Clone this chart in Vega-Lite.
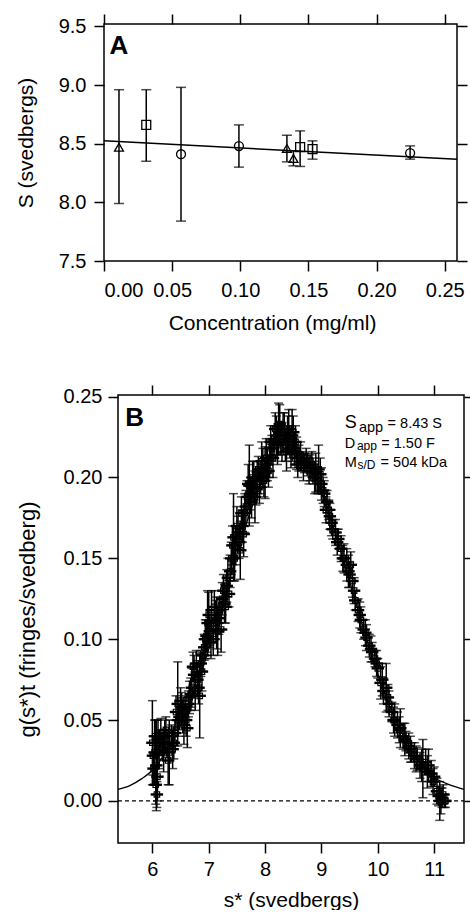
{
  "$schema": "https://vega.github.io/schema/vega-lite/v6.json",
  "background": "white",
  "padding": {"left": 14, "top": 12, "right": 0, "bottom": 0},
  "spacing": 50,
  "config": {
    "font": "Liberation Sans",
    "view": {"stroke": "black", "strokeWidth": 1.5},
    "axis": {
      "domain": false, "grid": false, "tickColor": "black", "tickWidth": 1.5, "tickSize": 10,
      "labelColor": "black", "titleColor": "black", "labelFont": "Liberation Sans", "titleFont": "Liberation Sans",
      "labelFontSize": 20, "titleFontSize": 21, "titleFontWeight": "normal"
    }
  },
  "vconcat": [
    {
      "width": 353,
      "height": 237,
      "data": {"values": [
        {"c": 0.011, "S": 8.47, "lo": 7.99, "hi": 8.96, "sym": "triangle"},
        {"c": 0.031, "S": 8.66, "lo": 8.35, "hi": 8.96, "sym": "square"},
        {"c": 0.0565, "S": 8.41, "lo": 7.84, "hi": 8.98, "sym": "circle"},
        {"c": 0.099, "S": 8.48, "lo": 8.30, "hi": 8.66, "sym": "circle"},
        {"c": 0.1342, "S": 8.46, "lo": 8.345, "hi": 8.572, "sym": "triangle"},
        {"c": 0.139, "S": 8.374, "lo": 8.311, "hi": 8.439, "sym": "triangle"},
        {"c": 0.1439, "S": 8.47, "lo": 8.306, "hi": 8.609, "sym": "square"},
        {"c": 0.153, "S": 8.453, "lo": 8.368, "hi": 8.524, "sym": "square"},
        {"c": 0.2246, "S": 8.42, "lo": 8.368, "hi": 8.481, "sym": "circle"}
      ]},
      "layer": [
        {
          "mark": {"type": "errorbar", "ticks": true, "size": 10, "thickness": 1.5, "color": "black"},
          "encoding": {
            "x": {"field": "c", "type": "quantitative",
                  "scale": {"domain": [0, 0.259], "nice": false, "zero": false},
                  "axis": {"orient": "bottom", "values": [0, 0.05, 0.1, 0.15, 0.2, 0.25], "format": ".2f",
                           "labelPadding": 9, "title": "Concentration (mg/ml)", "titlePadding": 12, "titleX": 168}},
            "y": {"field": "lo", "type": "quantitative",
                  "scale": {"domain": [7.5, 9.52], "nice": false, "zero": false},
                  "axis": {"orient": "left", "values": [7.5, 8, 8.5, 9, 9.5], "format": ".1f",
                           "labelPadding": 8, "title": "S (svedbergs)", "titlePadding": 22}},
            "y2": {"field": "hi"}
          }
        },
        {
          "mark": {"type": "point", "filled": false, "size": 80, "stroke": "black", "strokeWidth": 1.3, "opacity": 1},
          "encoding": {
            "x": {"field": "c", "type": "quantitative",
                  "axis": {"orient": "top", "values": [0, 0.05, 0.1, 0.15, 0.2, 0.25], "labels": false, "title": null}},
            "y": {"field": "S", "type": "quantitative",
                  "axis": {"orient": "right", "values": [7.5, 8, 8.5, 9, 9.5], "labels": false, "title": null}},
            "shape": {"field": "sym", "type": "nominal",
                      "scale": {"domain": ["triangle", "square", "circle"], "range": ["triangle-up", "square", "circle"]},
                      "legend": null}
          }
        },
        {
          "data": {"values": [{"c": 0, "S": 8.524}, {"c": 0.259, "S": 8.367}]},
          "mark": {"type": "line", "color": "black", "strokeWidth": 1.5},
          "encoding": {
            "x": {"field": "c", "type": "quantitative", "axis": null},
            "y": {"field": "S", "type": "quantitative", "axis": null}
          }
        },
        {
          "data": {"values": [{"c": 0.004, "S": 9.262, "t": "A"}]},
          "mark": {"type": "text", "fontSize": 26, "fontWeight": "bold", "align": "left", "baseline": "alphabetic", "color": "black"},
          "encoding": {
            "x": {"field": "c", "type": "quantitative", "axis": null},
            "y": {"field": "S", "type": "quantitative", "axis": null},
            "text": {"field": "t"}
          }
        }
      ],
      "resolve": {"axis": {"x": "independent", "y": "independent"}}
    },
    {
      "width": 360,
      "height": 448,
      "view": {"stroke": null},
      "data": {"values": [
        {"s": 6.00, "g": 0.036, "e": 0.026, "h": 0.11},
        {"s": 6.01, "g": 0.028, "e": 0.012, "h": 0.11},
        {"s": 6.02, "g": 0.020, "e": 0.010, "h": 0.11},
        {"s": 6.04, "g": 0.030, "e": 0.020, "h": 0.11},
        {"s": 6.05, "g": 0.040, "e": 0.010, "h": 0.11},
        {"s": 6.06, "g": 0.010, "e": 0.012, "h": 0.11},
        {"s": 6.07, "g": 0.022, "e": 0.028, "h": 0.11},
        {"s": 6.08, "g": 0.004, "e": 0.008, "h": 0.11},
        {"s": 6.09, "g": 0.015, "e": 0.015, "h": 0.11},
        {"s": 6.10, "g": 0.038, "e": 0.012, "h": 0.11},
        {"s": 6.12, "g": 0.030, "e": 0.010, "h": 0.11},
        {"s": 6.13, "g": 0.036, "e": 0.008, "h": 0.11},
        {"s": 6.15, "g": 0.042, "e": 0.009, "h": 0.11},
        {"s": 6.18, "g": 0.033, "e": 0.008, "h": 0.11},
        {"s": 6.20, "g": 0.030, "e": 0.012, "h": 0.11},
        {"s": 6.22, "g": 0.040, "e": 0.010, "h": 0.11},
        {"s": 6.24, "g": 0.044, "e": 0.008, "h": 0.11},
        {"s": 6.26, "g": 0.035, "e": 0.008, "h": 0.11},
        {"s": 6.28, "g": 0.025, "e": 0.015, "h": 0.11},
        {"s": 6.30, "g": 0.030, "e": 0.020, "h": 0.11},
        {"s": 6.34, "g": 0.040, "e": 0.007, "h": 0.11},
        {"s": 6.36, "g": 0.032, "e": 0.012, "h": 0.11},
        {"s": 6.38, "g": 0.036, "e": 0.010, "h": 0.11},
        {"s": 6.40, "g": 0.042, "e": 0.008, "h": 0.11},
        {"s": 6.42, "g": 0.055, "e": 0.010, "h": 0.11},
        {"s": 6.45, "g": 0.060, "e": 0.026, "h": 0.11},
        {"s": 6.46, "g": 0.050, "e": 0.010, "h": 0.11},
        {"s": 6.48, "g": 0.052, "e": 0.008, "h": 0.11},
        {"s": 6.50, "g": 0.062, "e": 0.008, "h": 0.11},
        {"s": 6.52, "g": 0.058, "e": 0.009, "h": 0.11},
        {"s": 6.54, "g": 0.052, "e": 0.010, "h": 0.11},
        {"s": 6.56, "g": 0.047, "e": 0.012, "h": 0.11},
        {"s": 6.58, "g": 0.056, "e": 0.009, "h": 0.11},
        {"s": 6.60, "g": 0.050, "e": 0.010, "h": 0.11},
        {"s": 6.62, "g": 0.045, "e": 0.012, "h": 0.11},
        {"s": 6.64, "g": 0.060, "e": 0.008, "h": 0.11},
        {"s": 6.66, "g": 0.064, "e": 0.010, "h": 0.11},
        {"s": 6.68, "g": 0.066, "e": 0.010, "h": 0.11},
        {"s": 6.70, "g": 0.070, "e": 0.012, "h": 0.11},
        {"s": 6.72, "g": 0.083, "e": 0.009, "h": 0.11},
        {"s": 6.74, "g": 0.078, "e": 0.012, "h": 0.11},
        {"s": 6.76, "g": 0.068, "e": 0.012, "h": 0.11},
        {"s": 6.78, "g": 0.085, "e": 0.008, "h": 0.11},
        {"s": 6.80, "g": 0.075, "e": 0.010, "h": 0.11},
        {"s": 6.82, "g": 0.070, "e": 0.010, "h": 0.11},
        {"s": 6.84, "g": 0.065, "e": 0.026, "h": 0.11},
        {"s": 6.86, "g": 0.085, "e": 0.008, "h": 0.11},
        {"s": 6.88, "g": 0.080, "e": 0.012, "h": 0.11},
        {"s": 6.90, "g": 0.090, "e": 0.010, "h": 0.11},
        {"s": 6.92, "g": 0.095, "e": 0.008, "h": 0.11},
        {"s": 6.94, "g": 0.100, "e": 0.012, "h": 0.11},
        {"s": 6.96, "g": 0.102, "e": 0.010, "h": 0.11},
        {"s": 6.98, "g": 0.110, "e": 0.020, "h": 0.11},
        {"s": 7.00, "g": 0.115, "e": 0.014, "h": 0.11},
        {"s": 7.02, "g": 0.105, "e": 0.010, "h": 0.11},
        {"s": 7.04, "g": 0.098, "e": 0.010, "h": 0.11},
        {"s": 7.05, "g": 0.118, "e": 0.012, "h": 0.11},
        {"s": 7.08, "g": 0.100, "e": 0.010, "h": 0.11},
        {"s": 7.10, "g": 0.120, "e": 0.010, "h": 0.11},
        {"s": 7.12, "g": 0.112, "e": 0.012, "h": 0.11},
        {"s": 7.14, "g": 0.110, "e": 0.016, "h": 0.11},
        {"s": 7.16, "g": 0.105, "e": 0.015, "h": 0.11},
        {"s": 7.18, "g": 0.113, "e": 0.010, "h": 0.11},
        {"s": 7.20, "g": 0.118, "e": 0.008, "h": 0.11},
        {"s": 7.22, "g": 0.106, "e": 0.014, "h": 0.11},
        {"s": 7.24, "g": 0.125, "e": 0.010, "h": 0.11},
        {"s": 7.26, "g": 0.130, "e": 0.010, "h": 0.11},
        {"s": 7.28, "g": 0.122, "e": 0.012, "h": 0.11},
        {"s": 7.30, "g": 0.120, "e": 0.010, "h": 0.11},
        {"s": 7.32, "g": 0.133, "e": 0.010, "h": 0.11},
        {"s": 7.34, "g": 0.138, "e": 0.012, "h": 0.11},
        {"s": 7.36, "g": 0.128, "e": 0.008, "h": 0.11},
        {"s": 7.38, "g": 0.142, "e": 0.010, "h": 0.11},
        {"s": 7.40, "g": 0.150, "e": 0.010, "h": 0.11},
        {"s": 7.42, "g": 0.158, "e": 0.012, "h": 0.11},
        {"s": 7.44, "g": 0.163, "e": 0.027, "h": 0.11},
        {"s": 7.46, "g": 0.150, "e": 0.014, "h": 0.11},
        {"s": 7.48, "g": 0.158, "e": 0.012, "h": 0.11},
        {"s": 7.50, "g": 0.170, "e": 0.012, "h": 0.11},
        {"s": 7.52, "g": 0.166, "e": 0.010, "h": 0.11},
        {"s": 7.54, "g": 0.160, "e": 0.010, "h": 0.11},
        {"s": 7.56, "g": 0.155, "e": 0.018, "h": 0.11},
        {"s": 7.58, "g": 0.178, "e": 0.010, "h": 0.11},
        {"s": 7.60, "g": 0.170, "e": 0.010, "h": 0.11},
        {"s": 7.62, "g": 0.165, "e": 0.014, "h": 0.11},
        {"s": 7.64, "g": 0.178, "e": 0.012, "h": 0.11},
        {"s": 7.66, "g": 0.182, "e": 0.010, "h": 0.11},
        {"s": 7.68, "g": 0.188, "e": 0.010, "h": 0.11},
        {"s": 7.70, "g": 0.196, "e": 0.012, "h": 0.11},
        {"s": 7.72, "g": 0.195, "e": 0.025, "h": 0.11},
        {"s": 7.74, "g": 0.190, "e": 0.010, "h": 0.11},
        {"s": 7.76, "g": 0.185, "e": 0.010, "h": 0.11},
        {"s": 7.78, "g": 0.200, "e": 0.010, "h": 0.11},
        {"s": 7.80, "g": 0.198, "e": 0.012, "h": 0.11},
        {"s": 7.82, "g": 0.188, "e": 0.016, "h": 0.11},
        {"s": 7.84, "g": 0.193, "e": 0.010, "h": 0.11},
        {"s": 7.86, "g": 0.200, "e": 0.010, "h": 0.11},
        {"s": 7.88, "g": 0.205, "e": 0.008, "h": 0.11},
        {"s": 7.90, "g": 0.194, "e": 0.010, "h": 0.11},
        {"s": 7.92, "g": 0.200, "e": 0.010, "h": 0.11},
        {"s": 7.94, "g": 0.210, "e": 0.012, "h": 0.11},
        {"s": 7.96, "g": 0.206, "e": 0.012, "h": 0.11},
        {"s": 7.98, "g": 0.198, "e": 0.010, "h": 0.11},
        {"s": 8.00, "g": 0.203, "e": 0.016, "h": 0.11},
        {"s": 8.02, "g": 0.212, "e": 0.012, "h": 0.11},
        {"s": 8.04, "g": 0.208, "e": 0.010, "h": 0.11},
        {"s": 8.06, "g": 0.204, "e": 0.010, "h": 0.11},
        {"s": 8.08, "g": 0.212, "e": 0.012, "h": 0.11},
        {"s": 8.10, "g": 0.222, "e": 0.010, "h": 0.11},
        {"s": 8.12, "g": 0.218, "e": 0.008, "h": 0.11},
        {"s": 8.14, "g": 0.212, "e": 0.012, "h": 0.11},
        {"s": 8.16, "g": 0.222, "e": 0.010, "h": 0.11},
        {"s": 8.18, "g": 0.230, "e": 0.010, "h": 0.11},
        {"s": 8.20, "g": 0.226, "e": 0.012, "h": 0.11},
        {"s": 8.22, "g": 0.220, "e": 0.012, "h": 0.11},
        {"s": 8.24, "g": 0.230, "e": 0.016, "h": 0.11},
        {"s": 8.26, "g": 0.233, "e": 0.012, "h": 0.11},
        {"s": 8.28, "g": 0.224, "e": 0.010, "h": 0.11},
        {"s": 8.30, "g": 0.222, "e": 0.012, "h": 0.11},
        {"s": 8.32, "g": 0.228, "e": 0.012, "h": 0.11},
        {"s": 8.34, "g": 0.230, "e": 0.010, "h": 0.11},
        {"s": 8.36, "g": 0.220, "e": 0.010, "h": 0.11},
        {"s": 8.38, "g": 0.216, "e": 0.012, "h": 0.11},
        {"s": 8.40, "g": 0.226, "e": 0.012, "h": 0.11},
        {"s": 8.42, "g": 0.230, "e": 0.012, "h": 0.11},
        {"s": 8.44, "g": 0.222, "e": 0.010, "h": 0.11},
        {"s": 8.46, "g": 0.216, "e": 0.010, "h": 0.11},
        {"s": 8.48, "g": 0.226, "e": 0.016, "h": 0.11},
        {"s": 8.50, "g": 0.228, "e": 0.010, "h": 0.11},
        {"s": 8.52, "g": 0.218, "e": 0.010, "h": 0.11},
        {"s": 8.54, "g": 0.222, "e": 0.010, "h": 0.11},
        {"s": 8.56, "g": 0.215, "e": 0.010, "h": 0.11},
        {"s": 8.58, "g": 0.208, "e": 0.008, "h": 0.11},
        {"s": 8.60, "g": 0.212, "e": 0.008, "h": 0.11},
        {"s": 8.63, "g": 0.214, "e": 0.008, "h": 0.11},
        {"s": 8.65, "g": 0.210, "e": 0.006, "h": 0.11},
        {"s": 8.68, "g": 0.206, "e": 0.008, "h": 0.11},
        {"s": 8.70, "g": 0.209, "e": 0.006, "h": 0.11},
        {"s": 8.73, "g": 0.212, "e": 0.006, "h": 0.11},
        {"s": 8.75, "g": 0.208, "e": 0.007, "h": 0.11},
        {"s": 8.78, "g": 0.204, "e": 0.008, "h": 0.11},
        {"s": 8.80, "g": 0.206, "e": 0.008, "h": 0.11},
        {"s": 8.83, "g": 0.208, "e": 0.008, "h": 0.11},
        {"s": 8.85, "g": 0.204, "e": 0.008, "h": 0.11},
        {"s": 8.88, "g": 0.200, "e": 0.010, "h": 0.11},
        {"s": 8.90, "g": 0.203, "e": 0.012, "h": 0.11},
        {"s": 8.93, "g": 0.198, "e": 0.008, "h": 0.11},
        {"s": 8.95, "g": 0.205, "e": 0.015, "h": 0.11},
        {"s": 8.98, "g": 0.202, "e": 0.010, "h": 0.11},
        {"s": 9.00, "g": 0.196, "e": 0.010, "h": 0.11},
        {"s": 9.03, "g": 0.192, "e": 0.008, "h": 0.11},
        {"s": 9.05, "g": 0.190, "e": 0.008, "h": 0.11},
        {"s": 9.08, "g": 0.180, "e": 0.008, "h": 0.11},
        {"s": 9.10, "g": 0.185, "e": 0.007, "h": 0.11},
        {"s": 9.13, "g": 0.180, "e": 0.006, "h": 0.11},
        {"s": 9.15, "g": 0.176, "e": 0.008, "h": 0.11},
        {"s": 9.18, "g": 0.172, "e": 0.008, "h": 0.11},
        {"s": 9.20, "g": 0.168, "e": 0.006, "h": 0.11},
        {"s": 9.25, "g": 0.166, "e": 0.008, "h": 0.11},
        {"s": 9.28, "g": 0.160, "e": 0.008, "h": 0.11},
        {"s": 9.30, "g": 0.162, "e": 0.006, "h": 0.11},
        {"s": 9.35, "g": 0.156, "e": 0.008, "h": 0.11},
        {"s": 9.38, "g": 0.150, "e": 0.008, "h": 0.11},
        {"s": 9.40, "g": 0.150, "e": 0.009, "h": 0.11},
        {"s": 9.45, "g": 0.146, "e": 0.010, "h": 0.11},
        {"s": 9.48, "g": 0.142, "e": 0.010, "h": 0.11},
        {"s": 9.50, "g": 0.140, "e": 0.008, "h": 0.11},
        {"s": 9.52, "g": 0.146, "e": 0.008, "h": 0.11},
        {"s": 9.55, "g": 0.136, "e": 0.010, "h": 0.11},
        {"s": 9.58, "g": 0.130, "e": 0.008, "h": 0.11},
        {"s": 9.60, "g": 0.124, "e": 0.006, "h": 0.11},
        {"s": 9.65, "g": 0.118, "e": 0.007, "h": 0.11},
        {"s": 9.68, "g": 0.115, "e": 0.008, "h": 0.11},
        {"s": 9.70, "g": 0.112, "e": 0.008, "h": 0.11},
        {"s": 9.75, "g": 0.106, "e": 0.006, "h": 0.11},
        {"s": 9.78, "g": 0.104, "e": 0.008, "h": 0.11},
        {"s": 9.80, "g": 0.101, "e": 0.008, "h": 0.11},
        {"s": 9.85, "g": 0.096, "e": 0.007, "h": 0.11},
        {"s": 9.88, "g": 0.094, "e": 0.008, "h": 0.11},
        {"s": 9.90, "g": 0.092, "e": 0.006, "h": 0.11},
        {"s": 9.95, "g": 0.088, "e": 0.005, "h": 0.11},
        {"s": 9.98, "g": 0.085, "e": 0.008, "h": 0.11},
        {"s": 10.00, "g": 0.082, "e": 0.006, "h": 0.11},
        {"s": 10.05, "g": 0.073, "e": 0.010, "h": 0.11},
        {"s": 10.08, "g": 0.075, "e": 0.010, "h": 0.11},
        {"s": 10.10, "g": 0.068, "e": 0.008, "h": 0.11},
        {"s": 10.15, "g": 0.070, "e": 0.015, "h": 0.11},
        {"s": 10.18, "g": 0.064, "e": 0.008, "h": 0.11},
        {"s": 10.20, "g": 0.060, "e": 0.008, "h": 0.11},
        {"s": 10.25, "g": 0.055, "e": 0.006, "h": 0.11},
        {"s": 10.28, "g": 0.050, "e": 0.008, "h": 0.11},
        {"s": 10.30, "g": 0.050, "e": 0.010, "h": 0.11},
        {"s": 10.35, "g": 0.047, "e": 0.008, "h": 0.11},
        {"s": 10.38, "g": 0.044, "e": 0.008, "h": 0.11},
        {"s": 10.40, "g": 0.045, "e": 0.012, "h": 0.11},
        {"s": 10.45, "g": 0.040, "e": 0.008, "h": 0.11},
        {"s": 10.48, "g": 0.038, "e": 0.010, "h": 0.11},
        {"s": 10.50, "g": 0.037, "e": 0.006, "h": 0.11},
        {"s": 10.55, "g": 0.034, "e": 0.008, "h": 0.11},
        {"s": 10.58, "g": 0.032, "e": 0.008, "h": 0.11},
        {"s": 10.60, "g": 0.030, "e": 0.006, "h": 0.11},
        {"s": 10.65, "g": 0.028, "e": 0.008, "h": 0.11},
        {"s": 10.68, "g": 0.026, "e": 0.008, "h": 0.11},
        {"s": 10.70, "g": 0.026, "e": 0.007, "h": 0.11},
        {"s": 10.75, "g": 0.022, "e": 0.008, "h": 0.11},
        {"s": 10.78, "g": 0.022, "e": 0.010, "h": 0.11},
        {"s": 10.80, "g": 0.020, "e": 0.018, "h": 0.11},
        {"s": 10.85, "g": 0.024, "e": 0.008, "h": 0.11},
        {"s": 10.88, "g": 0.018, "e": 0.010, "h": 0.11},
        {"s": 10.90, "g": 0.022, "e": 0.010, "h": 0.11},
        {"s": 10.95, "g": 0.017, "e": 0.008, "h": 0.11},
        {"s": 10.98, "g": 0.012, "e": 0.008, "h": 0.11},
        {"s": 11.00, "g": 0.015, "e": 0.006, "h": 0.11},
        {"s": 11.05, "g": 0.006, "e": 0.008, "h": 0.11},
        {"s": 11.08, "g": 0.003, "e": 0.006, "h": 0.11},
        {"s": 11.10, "g": 0.000, "e": 0.012, "h": 0.11},
        {"s": 11.12, "g": 0.000, "e": 0.008, "h": 0.11},
        {"s": 11.14, "g": 0.002, "e": 0.006, "h": 0.11},
        {"s": 11.16, "g": 0.004, "e": 0.006, "h": 0.11},
        {"s": 11.18, "g": 0.000, "e": 0.004, "h": 0.11},
        {"s": 11.20, "g": 0.000, "e": 0.004, "h": 0.11}
      ]},
      "layer": [
        {
          "data": {"values": [{"x0": 5.39, "x1": 11.53, "y0": -0.026, "y1": 0.251}]},
          "mark": {"type": "rect", "filled": false, "stroke": "black", "strokeWidth": 1.5, "fill": null},
          "encoding": {
            "x": {"field": "x0", "type": "quantitative", "axis": null},
            "x2": {"field": "x1"},
            "y": {"field": "y0", "type": "quantitative", "axis": null},
            "y2": {"field": "y1"}
          }
        },
        {
          "data": {"values": [{"x0": 5.39, "x1": 11.53, "g": 0}]},
          "mark": {"type": "rule", "color": "black", "strokeWidth": 1.3, "strokeDash": [4, 3]},
          "encoding": {
            "x": {"field": "x0", "type": "quantitative", "axis": null},
            "x2": {"field": "x1"},
            "y": {"field": "g", "type": "quantitative", "axis": null}
          }
        },
        {
          "data": {"values": [
            {"s": 5.39, "g": 0.0072}, {"s": 5.6, "g": 0.0095}, {"s": 5.8, "g": 0.0135}, {"s": 6.0, "g": 0.019},
            {"s": 6.2, "g": 0.028}, {"s": 6.4, "g": 0.0397}, {"s": 6.6, "g": 0.0546}, {"s": 6.8, "g": 0.0727},
            {"s": 7.0, "g": 0.0937}, {"s": 7.2, "g": 0.1167}, {"s": 7.4, "g": 0.1407}, {"s": 7.6, "g": 0.164},
            {"s": 7.8, "g": 0.185}, {"s": 8.0, "g": 0.202}, {"s": 8.2, "g": 0.2133}, {"s": 8.4, "g": 0.218},
            {"s": 8.6, "g": 0.2154}, {"s": 8.8, "g": 0.206}, {"s": 9.0, "g": 0.191}, {"s": 9.2, "g": 0.1707},
            {"s": 9.4, "g": 0.1478}, {"s": 9.6, "g": 0.1238}, {"s": 9.8, "g": 0.1004}, {"s": 10.0, "g": 0.0787},
            {"s": 10.2, "g": 0.0597}, {"s": 10.4, "g": 0.0439}, {"s": 10.6, "g": 0.0312}, {"s": 10.8, "g": 0.0214},
            {"s": 11.0, "g": 0.0145}, {"s": 11.2, "g": 0.011}, {"s": 11.4, "g": 0.0085}, {"s": 11.53, "g": 0.0072}
          ]},
          "mark": {"type": "line", "color": "black", "strokeWidth": 1.3, "interpolate": "monotone"},
          "encoding": {
            "x": {"field": "s", "type": "quantitative",
                  "scale": {"domain": [5.1416, 11.53], "nice": false, "zero": false},
                  "axis": {"orient": "bottom", "values": [6, 7, 8, 9, 10, 11], "format": "d",
                           "labelPadding": 6, "title": "s* (svedbergs)", "titlePadding": 10, "titleX": 187}},
            "y": {"field": "g", "type": "quantitative",
                  "scale": {"domain": [-0.026, 0.251], "nice": false, "zero": false},
                  "axis": {"orient": "left", "offset": -14, "values": [0, 0.05, 0.1, 0.15, 0.2, 0.25], "format": ".2f",
                           "labelPadding": 6, "title": "g(s*)t (fringes/svedberg)", "titleFontSize": 22, "titlePadding": 24}}
          }
        },
        {
          "mark": {"type": "errorbar", "ticks": true, "size": 9, "thickness": 1.5, "color": "black"},
          "encoding": {
            "x": {"field": "s", "type": "quantitative", "axis": null},
            "y": {"field": "g", "type": "quantitative", "axis": null},
            "yError": {"field": "e"}
          }
        },
        {
          "mark": {"type": "errorbar", "thickness": 2.4, "color": "black"},
          "encoding": {
            "y": {"field": "g", "type": "quantitative", "axis": null},
            "x": {"field": "s", "type": "quantitative", "axis": null},
            "xError": {"field": "h"}
          }
        },
        {
          "mark": {"type": "point", "shape": "square", "filled": false, "size": 30, "stroke": "black", "strokeWidth": 1.2, "opacity": 1},
          "encoding": {
            "x": {"field": "s", "type": "quantitative",
                  "axis": {"orient": "top", "values": [6, 7, 8, 9, 10, 11], "labels": false, "title": null}},
            "y": {"field": "g", "type": "quantitative",
                  "axis": {"orient": "right", "values": [0, 0.05, 0.1, 0.15, 0.2, 0.25], "labels": false, "title": null}}
          }
        },
        {
          "data": {"values": [{"s": 9.416, "g": 0.2307, "t": "S"}]},
          "mark": {"type": "text", "fontSize": 18, "align": "left", "baseline": "alphabetic", "color": "black"},
          "encoding": {
            "x": {"field": "s", "type": "quantitative", "axis": null},
            "y": {"field": "g", "type": "quantitative", "axis": null},
            "text": {"field": "t"}
          }
        },
        {
          "data": {"values": [
            {"s": 10.174, "g": 0.2307, "t": "= 8.43 S"},
            {"s": 9.416, "g": 0.2183, "t": "D"},
            {"s": 10.062, "g": 0.2183, "t": "= 1.50 F"},
            {"s": 9.416, "g": 0.2063, "t": "M"},
            {"s": 10.05, "g": 0.2063, "t": "= 504 kDa"},
            {"s": 9.665, "g": 0.2284, "t": "app"}
          ]},
          "mark": {"type": "text", "fontSize": 14.5, "align": "left", "baseline": "alphabetic", "color": "black"},
          "encoding": {
            "x": {"field": "s", "type": "quantitative", "axis": null},
            "y": {"field": "g", "type": "quantitative", "axis": null},
            "text": {"field": "t"}
          }
        },
        {
          "data": {"values": [
            {"s": 9.63, "g": 0.2173, "t": "app"},
            {"s": 9.64, "g": 0.2053, "t": "s/D"}
          ]},
          "mark": {"type": "text", "fontSize": 12, "align": "left", "baseline": "alphabetic", "color": "black"},
          "encoding": {
            "x": {"field": "s", "type": "quantitative", "axis": null},
            "y": {"field": "g", "type": "quantitative", "axis": null},
            "text": {"field": "t"}
          }
        },
        {
          "data": {"values": [{"s": 5.52, "g": 0.232, "t": "B"}]},
          "mark": {"type": "text", "fontSize": 26, "fontWeight": "bold", "align": "left", "baseline": "alphabetic", "color": "black"},
          "encoding": {
            "x": {"field": "s", "type": "quantitative", "axis": null},
            "y": {"field": "g", "type": "quantitative", "axis": null},
            "text": {"field": "t"}
          }
        }
      ],
      "resolve": {"axis": {"x": "independent", "y": "independent"}}
    }
  ]
}
